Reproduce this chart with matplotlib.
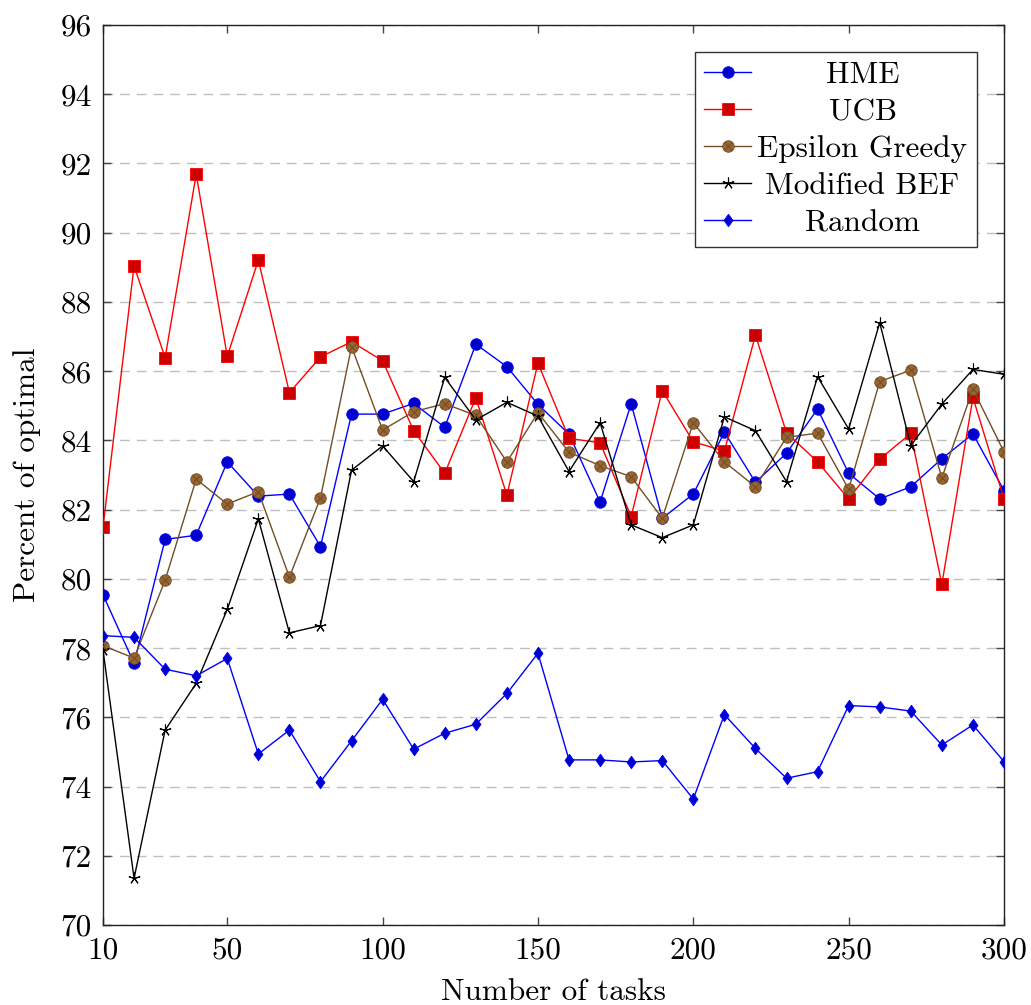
import numpy as np
import matplotlib
matplotlib.use('Agg')
import matplotlib.pyplot as plt
from matplotlib.legend_handler import HandlerTuple

plt.rcParams['font.family'] = 'serif'
plt.rcParams['font.serif'] = ['cmr10', 'DejaVu Serif']
plt.rcParams['mathtext.fontset'] = 'cm'
plt.rcParams['axes.unicode_minus'] = False

# data
tasks = [10, 20, 30, 40, 50, 60, 70, 80, 90, 100,
         110, 120, 130, 140, 150, 160, 170, 180, 190, 200,
         210, 220, 230, 240, 250, 260, 270, 280, 290, 300]

hme = [79.54, 77.56, 81.14, 81.26, 83.38, 82.39, 82.45, 80.93, 84.76, 84.76,
       85.07, 84.38, 86.78, 86.13, 85.04, 84.18, 82.22, 85.06, 81.75, 82.45,
       84.24, 82.79, 83.63, 84.91, 83.05, 82.31, 82.66, 83.47, 84.19, 82.55]

ucb = [81.49, 89.04, 86.39, 91.69, 86.43, 89.21, 85.38, 86.41, 86.85, 86.30,
       84.28, 83.05, 85.23, 82.42, 86.23, 84.06, 83.93, 81.80, 85.44, 83.96,
       83.69, 87.04, 84.22, 83.38, 82.31, 83.46, 84.20, 79.84, 85.24, 82.31]

eps_greedy = [78.07, 77.71, 79.96, 82.88, 82.16, 82.52, 80.05, 82.34, 86.71, 84.30,
              84.83, 85.06, 84.72, 83.38, 84.80, 83.66, 83.27, 82.95, 81.75, 84.51,
              83.38, 82.66, 84.09, 84.21, 82.59, 85.70, 86.03, 82.92, 85.48, 83.67]

mod_bef = [77.94, 71.35, 75.63, 76.98, 79.12, 81.73, 78.44, 78.65, 83.14, 83.84,
           82.81, 85.82, 84.59, 85.10, 84.70, 83.10, 84.51, 81.56, 81.19, 81.56,
           84.68, 84.28, 82.81, 85.84, 84.33, 87.40, 83.85, 85.05, 86.05, 85.91]

rand = [78.36, 78.31, 77.39, 77.20, 77.70, 74.94, 75.63, 74.14, 75.32, 76.52,
        75.08, 75.54, 75.80, 76.69, 77.85, 74.77, 74.77, 74.71, 74.75, 73.64,
        76.08, 75.10, 74.24, 74.43, 76.34, 76.30, 76.18, 75.20, 75.78, 74.72]

labels = ['HME', 'UCB', 'Epsilon Greedy', 'Modified BEF', 'Random']

fig = plt.figure(figsize=(10.31, 10.05), dpi=100)
ax = fig.add_axes([0.0999, 0.0796, 0.8739, 0.8955])

brown_line = '#734d26'
brown_fill = '#996633'
fs = 22.5
# pgfplots-like diamond (a bit wider than matplotlib's thin diamond)
diamond = [(0, 1), (0.72, 0), (0, -1), (-0.72, 0), (0, 1)]

h1, = ax.plot(tasks, hme, color='blue', lw=1.0, marker='o', ms=8.3,
              mfc='#0000cc', mec='blue', mew=0.6, zorder=3)
h2, = ax.plot(tasks, ucb, color='red', lw=1.0, marker='s', ms=8.0,
              mfc='#cc0000', mec='red', mew=0.6, zorder=3)
h3, = ax.plot(tasks, eps_greedy, color=brown_line, lw=1.0, marker='o', ms=8.3,
              mfc=brown_fill, mec=brown_line, mew=0.6, zorder=3)
h3x, = ax.plot(tasks, eps_greedy, ls='none', marker='x', ms=5.6,
               mec=brown_line, mew=0.8, zorder=4)
h4, = ax.plot(tasks, mod_bef, color='black', lw=1.0, marker=(5, 2, 0), ms=8.5,
              mec='black', mew=0.8, zorder=3)
h5, = ax.plot(tasks, rand, color='blue', lw=1.0, marker=diamond, ms=9.0,
              mfc='#0000cc', mec='blue', mew=0.6, zorder=3)

ax.set_xlim(10, 300)
ax.set_ylim(70, 96)
ax.set_xticks([10, 50, 100, 150, 200, 250, 300])
ax.set_yticks(np.arange(70, 97, 2))
ax.yaxis.grid(True, color='#bfbfbf', ls=(0, (7, 5)), lw=1.0)
ax.set_axisbelow(True)
ax.tick_params(direction='in', length=6, width=1.0, color='#444444',
               top=True, right=True, labelsize=fs, pad=8)
for s in ax.spines.values():
    s.set_linewidth(1.0)
    s.set_color('#222222')

ax.set_xlabel('Number of tasks', fontsize=fs, labelpad=10)
ax.set_ylabel('Percent of optimal', fontsize=fs, labelpad=14)

leg = ax.legend([h1, h2, (h3, h3x), h4, h5], labels,
                handler_map={tuple: HandlerTuple(ndivide=1)},
                loc='upper right', bbox_to_anchor=(0.970, 0.970),
                fontsize=fs, frameon=True, fancybox=False, framealpha=1,
                edgecolor='#333333', borderpad=0.3, labelspacing=0.29,
                handlelength=1.5, handletextpad=0.2, borderaxespad=0)
leg.get_frame().set_linewidth(1.0)

# center legend labels like pgfplots
fig.canvas.draw()
texts = leg.get_texts()
widths = [t.get_window_extent().width for t in texts]
wmax = max(widths)
for t, w in zip(texts, widths):
    t.set_x((wmax - w) / 2)

fig.savefig('out.png', dpi=100)
